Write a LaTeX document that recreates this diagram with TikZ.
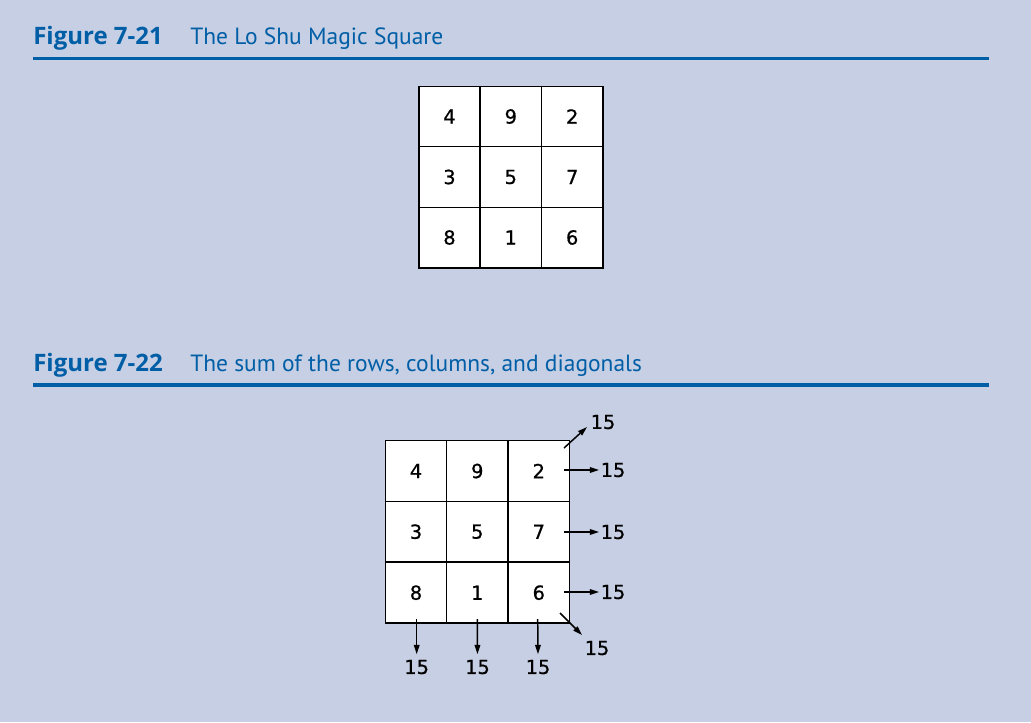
\documentclass[tikz,border=0pt]{standalone}
\usepackage{fontspec}
\setmainfont{PT Sans}
\newfontfamily\figfont{Open Sans}
\newfontfamily\digitfont[FakeBold=0.8]{DejaVu Sans}
\usetikzlibrary{arrows.meta}
\definecolor{bgc}{RGB}{198,207,227}
\definecolor{ttl}{RGB}{0,94,166}
\begin{document}
\begin{tikzpicture}[x=0.75pt,y=-0.75pt,
  cellA/.style={draw=black,line width=1.1pt,fill=white,minimum width=45.9pt,minimum height=45.4pt,inner sep=0pt,font=\digitfont\fontsize{14.5pt}{15pt}\selectfont},
  cellB/.style={draw=black,line width=1.1pt,fill=white,minimum width=46.1pt,minimum height=45.6pt,inner sep=0pt,font=\digitfont\fontsize{14.5pt}{15pt}\selectfont},
  sumlbl/.style={inner sep=0pt,font=\digitfont\fontsize{14.5pt}{15pt}\selectfont},
  arr/.style={line width=1.1pt,-{Triangle[length=7pt,width=4.2pt]}},
  figno/.style={anchor=base west,inner sep=0pt,text=ttl,font=\figfont\bfseries\fontsize{18pt}{19pt}\selectfont},
  figtxt/.style={anchor=base west,inner sep=0pt,text=ttl,font=\fontsize{17.6pt}{19pt}\selectfont},
  rule/.style={draw=ttl,line width=2.6pt}]
\fill[bgc] (0,0) rectangle (1031,722);
\useasboundingbox (0,0) rectangle (1031,722);

% Figure 7-21 title
\node[figno] (f1n) at (33,44.5) {Figure 7-21};
\node[figtxt] (f1t) at (190,44.5) {The Lo Shu Magic Square};
\coordinate (r1a) at (33,58.5);
\coordinate (r1b) at (988.5,58.5);
\draw[rule] (r1a) -- (r1b);

% Figure 7-21 square
\node[cellA] (a11) at (449.5,116.5) {4};
\node[cellA] (a12) at (510.8,116.5) {9};
\node[cellA] (a13) at (572.2,116.5) {2};
\node[cellA] (a21) at (449.5,177) {3};
\node[cellA] (a22) at (510.8,177) {5};
\node[cellA] (a23) at (572.2,177) {7};
\node[cellA] (a31) at (449.5,237.5) {8};
\node[cellA] (a32) at (510.8,237.5) {1};
\node[cellA] (a33) at (572.2,237.5) {6};

% Figure 7-22 title
\node[figno] (f2n) at (33,371) {Figure 7-22};
\node[figtxt] (f2t) at (190,371) {The sum of the rows, columns, and diagonals};
\coordinate (r2a) at (33,385);
\coordinate (r2b) at (988.5,385);
\draw[rule] (r2a) -- (r2b);

% Figure 7-22 square
\node[cellB] (b11) at (416,471) {4};
\node[cellB] (b12) at (477.3,471) {9};
\node[cellB] (b13) at (538.8,471) {2};
\node[cellB] (b21) at (416,531.7) {3};
\node[cellB] (b22) at (477.3,531.7) {5};
\node[cellB] (b23) at (538.8,531.7) {7};
\node[cellB] (b31) at (416,592.7) {8};
\node[cellB] (b32) at (477.3,592.7) {1};
\node[cellB] (b33) at (538.8,592.7) {6};

% sum labels
\node[sumlbl] (sd1) at (603,422) {15};
\node[sumlbl] (sr1) at (613,470) {15};
\node[sumlbl] (sr2) at (613,532) {15};
\node[sumlbl] (sr3) at (613,592) {15};
\node[sumlbl] (sd2) at (597,648) {15};
\node[sumlbl] (sc1) at (416.7,667) {15};
\node[sumlbl] (sc2) at (477.5,667) {15};
\node[sumlbl] (sc3) at (538,667) {15};

% arrow starts
\coordinate (d1s) at (564,448);
\coordinate (d1e) at (587,427);
\coordinate (r1s) at (564,470);
\coordinate (r2s) at (564,532);
\coordinate (r3s) at (564,592);
\coordinate (d2s) at (560,613);
\coordinate (d2e) at (582,635);
\coordinate (c1s) at (416.7,619);
\coordinate (c2s) at (477.3,619);
\coordinate (c3s) at (537.7,619);

\draw[arr] (d1s) -- (d1e);
\draw[arr] (r1s) -- ([xshift=-1pt]sr1.west);
\draw[arr] (r2s) -- ([xshift=-1pt]sr2.west);
\draw[arr] (r3s) -- ([xshift=-1pt]sr3.west);
\draw[arr] (d2s) -- (d2e);
\draw[arr] (c1s) -- ([yshift=4pt]sc1.north);
\draw[arr] (c2s) -- ([yshift=4pt]sc2.north);
\draw[arr] (c3s) -- ([yshift=4pt]sc3.north);
\end{tikzpicture}
\end{document}
